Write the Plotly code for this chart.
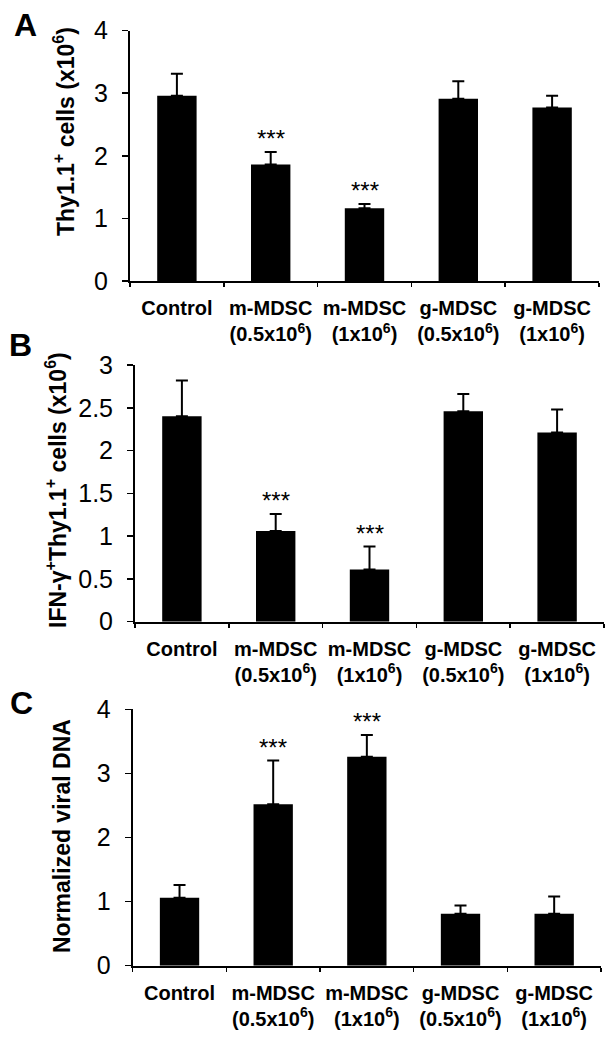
import plotly.graph_objects as go

categories = ["Control", "m-MDSC<br>(0.5x10<sup>6</sup>)", "m-MDSC<br>(1x10<sup>6</sup>)",
              "g-MDSC<br>(0.5x10<sup>6</sup>)", "g-MDSC<br>(1x10<sup>6</sup>)"]

thy_values = [2.96, 1.86, 1.16, 2.91, 2.77]
thy_errors = [0.35, 0.20, 0.07, 0.28, 0.19]

ifn_values = [2.40, 1.06, 0.61, 2.46, 2.21]
ifn_errors = [0.42, 0.20, 0.27, 0.20, 0.27]

dna_values = [1.06, 2.52, 3.26, 0.81, 0.81]
dna_errors = [0.20, 0.68, 0.34, 0.13, 0.27]

significant = [False, True, True, False, False]

W, H = 613, 1041


def px(x):
    return x / W


def py(y):
    return 1 - y / H


panels = [
    dict(values=thy_values, errors=thy_errors, ymax=4, dtick=1,
         x0=130, x1=599, ytop=30.5, ybot=281,
         title="Thy1.1<sup>+</sup> cells (x10<sup>6</sup>)", tx=64, ty=132,
         letter="A", lx=25, ly=25),
    dict(values=ifn_values, errors=ifn_errors, ymax=3, dtick=0.5,
         x0=135, x1=604, ytop=365, ybot=621.7,
         title="IFN-γ<sup>+</sup>Thy1.1<sup>+</sup> cells (x10<sup>6</sup>)", tx=56, ty=490,
         letter="B", lx=20, ly=345),
    dict(values=dna_values, errors=dna_errors, ymax=4, dtick=1,
         x0=132.7, x1=601, ytop=709.3, ybot=965.7,
         title="Normalized viral DNA", tx=62, ty=836,
         letter="C", lx=22, ly=703),
]

FONT = "Liberation Sans, Arial, sans-serif"

fig = go.Figure()
layout = dict(template="none", width=W, height=H,
              margin=dict(l=0, r=0, t=0, b=0, pad=0, autoexpand=False),
              paper_bgcolor="white", plot_bgcolor="white", showlegend=False,
              bargap=0.58)
annotations = []

for i, p in enumerate(panels):
    n = "" if i == 0 else str(i + 1)
    xa, ya = "x" + n, "y" + n
    fig.add_trace(go.Bar(
        x=categories, y=p["values"], xaxis=xa, yaxis=ya,
        marker=dict(color="black", line=dict(width=0)),
        width=0.42,
        error_y=dict(type="data", symmetric=False, array=p["errors"],
                     arrayminus=[0] * len(p["values"]),
                     color="black", thickness=2, width=6),
    ))
    layout["xaxis" + n] = dict(
        domain=[px(p["x0"]), px(p["x1"])], anchor=ya, automargin=False,
        type="category", showline=True, linecolor="black", linewidth=2,
        ticks="outside", tickson="boundaries", ticklen=4, tickwidth=1.5,
        tickcolor="black", showgrid=False, zeroline=False,
        tickfont=dict(family=FONT, size=20, color="black", weight="bold"),
        ticklabelstandoff=8,
    )
    layout["yaxis" + n] = dict(
        domain=[py(p["ybot"]), py(p["ytop"])], anchor=xa, automargin=False,
        range=[0, p["ymax"]], dtick=p["dtick"], tick0=0,
        showline=True, linecolor="black", linewidth=2,
        ticks="outside", ticklen=6, tickwidth=1.5, tickcolor="black",
        showgrid=False, zeroline=False,
        tickfont=dict(family=FONT, size=25, color="black"),
        ticklabelstandoff=9,
    )
    for c, v, e, s in zip(categories, p["values"], p["errors"], significant):
        if s:
            annotations.append(dict(
                x=c, y=v + e, xref=xa, yref=ya, text="***", showarrow=False,
                yanchor="middle", yshift=13,
                font=dict(family=FONT, size=24, color="black")))
    annotations.append(dict(
        x=px(p["tx"]), y=py(p["ty"]), xref="paper", yref="paper",
        text=p["title"], textangle=-90, showarrow=False,
        xanchor="center", yanchor="middle",
        font=dict(family=FONT, size=23, color="black", weight="bold")))
    annotations.append(dict(
        x=px(p["lx"]), y=py(p["ly"]), xref="paper", yref="paper",
        text=p["letter"], showarrow=False, xanchor="center", yanchor="middle",
        font=dict(family=FONT, size=32, color="black", weight="bold")))

layout["annotations"] = annotations
fig.update_layout(**layout)
fig.write_html("out.html",
               config={"displayModeBar": False, "staticPlot": True},
               post_script="document.body.style.margin='0px';"
                           "document.body.style.overflow='hidden';")
